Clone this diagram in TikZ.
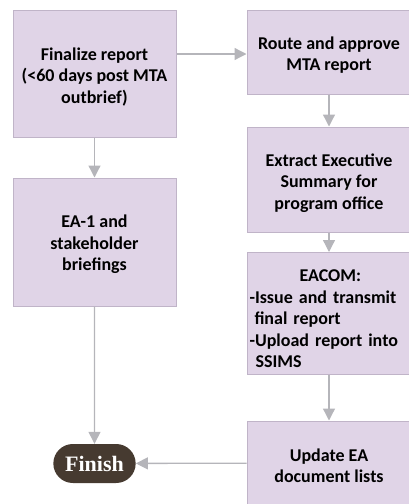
\documentclass[tikz,border=0pt]{standalone}
\usepackage{fontspec}
\setmainfont{Carlito}
\newfontfamily\finishfont{Liberation Serif}
\usetikzlibrary{arrows.meta,shapes.misc}
\definecolor{boxfill}{HTML}{E0D4E7}
\definecolor{boxline}{HTML}{C0B4C8}
\definecolor{arrowgray}{HTML}{B5B5BA}
\definecolor{finishfill}{HTML}{463A30}
\newcommand{\mytopstrut}[1]{\rule{0pt}{#1}}
\tikzset{
  stepbox/.style={draw=boxline, line width=1pt, fill=boxfill, rectangle,
    align=center, inner sep=2pt,
    font=\fontsize{18}{21.5}\selectfont\bfseries},
  flow/.style={draw=arrowgray, line width=1.3pt,
    -{Triangle[length=12pt,width=12pt]}},
  finishbox/.style={rounded rectangle, fill=finishfill, draw=none,
    text=white, minimum width=89pt, minimum height=39pt,
    font=\finishfont\fontsize{22}{24}\selectfont\bfseries}
}
\begin{document}
\begin{tikzpicture}[x=1pt,y=-1pt]
\useasboundingbox (0,0) rectangle (409,504);
\node[stepbox, minimum width=163pt, minimum height=127pt] (final) at (94.5,73.5)
  {\mytopstrut{19.5pt}Finalize report\\(<60 days post MTA\\outbrief)};
\node[stepbox, minimum width=164pt, minimum height=84pt] (route) at (329,52)
  {\mytopstrut{19pt}Route and approve\\MTA report};
\node[stepbox, minimum width=164pt, minimum height=105pt] (extract) at (329,179.5)
  {\mytopstrut{19.5pt}Extract Executive\\Summary for\\program office};
\node[stepbox, minimum width=164pt, minimum height=122pt, align=left, text width=159pt] (eacom) at (329,313.5)
  {\mytopstrut{23pt}\hspace*{50pt}EACOM:\\-Issue and transmit\\\hspace*{5pt}final report\\-Upload report into\\\hspace*{6pt}SSIMS};
\node[stepbox, minimum width=164pt, minimum height=84pt] (update) at (329,463)
  {\mytopstrut{18pt}Update EA\\document lists};
\node[stepbox, minimum width=163pt, minimum height=128pt] (ea1) at (94.5,242)
  {\mytopstrut{18pt}EA-1 and\\stakeholder\\briefings};
\node[finishbox] (finish) at (94.5,463.5) {Finish};
\draw[flow] (final.east |- 0,54) -- (route.west |- 0,54);
\draw[flow] (final) -- (ea1);
\draw[flow] (route) -- (extract);
\draw[flow] (extract) -- (eacom);
\draw[flow] (eacom) -- (update);
\draw[flow] (ea1) -- (finish);
\draw[flow] (update) -- (finish);
\end{tikzpicture}
\end{document}
